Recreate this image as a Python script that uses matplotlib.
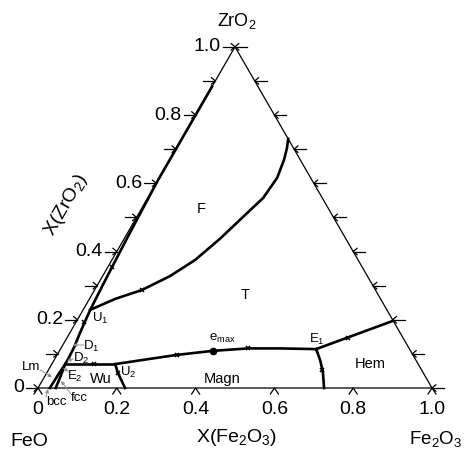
import numpy as np
import matplotlib
matplotlib.use("Agg")
import matplotlib.pyplot as plt

plt.rcParams['font.family'] = ['Liberation Sans', 'DejaVu Sans']
plt.rcParams['mathtext.fontset'] = 'custom'
plt.rcParams['mathtext.rm'] = 'Liberation Sans'
plt.rcParams['mathtext.it'] = 'Liberation Sans:italic'

# ---- data: compositions (x = X(Fe2O3), z = X(ZrO2)) ----
ft_x = [0.018, 0.065, 0.120, 0.171, 0.211, 0.243, 0.272, 0.293, 0.299, 0.290, 0.280, 0.270]
ft_z = [0.229, 0.261, 0.287, 0.328, 0.375, 0.437, 0.507, 0.557, 0.616, 0.669, 0.704, 0.730]

liq_x = [0.000, 0.000, 0.006, 0.012, 0.018, 0.026, 0.032, 0.034, 0.034, 0.032, 0.030]
liq_z = [0.883, 0.610, 0.450, 0.330, 0.229, 0.160, 0.120, 0.085, 0.070, 0.045, 0.000]

fcc_x = [0.034, 0.040, 0.045]
fcc_z = [0.070, 0.035, 0.000]

wu_x = [0.034, 0.107, 0.161]
wu_z = [0.070, 0.070, 0.070]

wumag_x = [0.161, 0.180, 0.221]
wumag_z = [0.070, 0.045, 0.000]

magt_x = [0.161, 0.234, 0.304, 0.390, 0.476, 0.556, 0.649]
magt_z = [0.070, 0.084, 0.097, 0.109, 0.116, 0.116, 0.114]

maghem_x = [0.649, 0.675, 0.699, 0.726]
maghem_z = [0.114, 0.082, 0.048, 0.000]

hemt_x = [0.649, 0.803]
hemt_z = [0.114, 0.197]

mark_x = [0.120, 0.011, 0.020, 0.107, 0.180, 0.304, 0.476, 0.694, 0.713]
mark_z = [0.287, 0.355, 0.194, 0.070, 0.045, 0.097, 0.116, 0.053, 0.146]

emax_x = [0.390]
emax_z = [0.109]

side_ticks = [0.0, 0.1, 0.2, 0.3, 0.4, 0.5, 0.6, 0.7, 0.8, 0.9, 1.0]
base_ticks = [0.0, 0.2, 0.4, 0.6, 0.8, 1.0]
tick_labels = ['0', '0.2', '0.4', '0.6', '0.8', '1.0']

S = np.sqrt(3) / 2
PX = 1 / 394.0


def tern(x, z):
    x = np.asarray(x, float)
    z = np.asarray(z, float)
    return x + z / 2, z * S


def P(px, py):
    return ((px - 38) / 394.0, (388 - py) / 394.0)


fig = plt.figure(figsize=(4.65, 4.55), dpi=100)
ax = fig.add_axes([0, 0, 1, 1])
ax.set_xlim(-38 / 394, (465 - 38) / 394)
ax.set_ylim((388 - 455) / 394, 388 / 394)
ax.axis('off')

# triangle
tx, ty = tern([0, 1, 0, 0], [0, 0, 1, 0])
ax.plot(tx, ty, color='black', lw=0.9, zorder=2)

# ticks
tl = 12 * PX
hl = 5 * PX
ang = np.deg2rad(40)
for z in side_ticks:
    X, Y = tern(0, z)
    ax.plot([X - tl, X], [Y, Y], color='black', lw=0.9)
    ax.plot([X - hl * np.cos(ang), X, X - hl * np.cos(ang)],
            [Y + hl * np.sin(ang), Y, Y - hl * np.sin(ang)], color='black', lw=0.9)
    X, Y = tern(1 - z, z)
    ax.plot([X, X + tl], [Y, Y], color='black', lw=0.9)
    ax.plot([X + hl * np.cos(ang), X, X + hl * np.cos(ang)],
            [Y + hl * np.sin(ang), Y, Y - hl * np.sin(ang)], color='black', lw=0.9)
for x in base_ticks:
    X, Y = tern(x, 0)
    ax.plot([X - 4 * PX, X, X + 4 * PX], [Y - 6 * PX, Y, Y - 6 * PX], color='black', lw=0.9)

# tick labels
fs_tick = 14
for z, lab in zip(base_ticks, tick_labels):
    X, Y = tern(0, z)
    ax.text(X - 14 * PX, Y, lab, ha='right', va='center', fontsize=fs_tick)
    X, Y = tern(z, 0)
    ax.text(X, Y - 21 * PX, lab, ha='center', va='center', fontsize=fs_tick)

# phase boundaries
blw = 1.9
for xs, zs in [(ft_x, ft_z), (liq_x, liq_z), (fcc_x, fcc_z), (wu_x, wu_z),
               (wumag_x, wumag_z), (magt_x, magt_z), (maghem_x, maghem_z), (hemt_x, hemt_z)]:
    X, Y = tern(xs, zs)
    ax.plot(X, Y, color='black', lw=blw, solid_joinstyle='round', zorder=3)

X, Y = tern(mark_x, mark_z)
ax.plot(X, Y, ls='none', marker='x', ms=3.2, mew=1.1, color='black', zorder=4)
X, Y = tern(emax_x, emax_z)
ax.plot(X, Y, ls='none', marker='o', ms=4.5, color='black', zorder=4)

# axis titles and corners
ax.text(*P(237, 21), 'ZrO$_2$', ha='center', va='center', fontsize=13)
ax.text(*P(29, 441), 'FeO', ha='center', va='center', fontsize=14)
ax.text(*P(462, 439), 'Fe$_2$O$_3$', ha='right', va='center', fontsize=13.5)
ax.text(*P(237, 438), 'X(Fe$_2$O$_3$)', ha='center', va='center', fontsize=14)
ax.text(*P(66, 205), 'X(ZrO$_2$)', ha='center', va='center', fontsize=14, rotation=60)

# region labels
fs_r = 10.5
ax.text(*P(201, 209), 'F', ha='center', va='center', fontsize=fs_r)
ax.text(*P(245, 295), 'T', ha='center', va='center', fontsize=fs_r)
ax.text(*P(370, 364), 'Hem', ha='center', va='center', fontsize=fs_r)
ax.text(*P(222, 379), 'Magn', ha='center', va='center', fontsize=fs_r)
ax.text(*P(101, 379), 'Wu', ha='center', va='center', fontsize=fs_r)

fs_p = 9.5
ax.text(*P(222, 338), 'e$_{\\mathrm{max}}$', ha='center', va='center', fontsize=fs_p)
ax.text(*P(317, 339), 'E$_1$', ha='center', va='center', fontsize=fs_p)
ax.text(*P(100, 318), 'U$_1$', ha='center', va='center', fontsize=fs_p)
ax.text(*P(128, 372), 'U$_2$', ha='center', va='center', fontsize=fs_p)
ax.text(*P(91, 346), 'D$_1$', ha='center', va='center', fontsize=fs_p)
ax.text(*P(81, 358), 'D$_2$', ha='center', va='center', fontsize=fs_p)
ax.text(*P(75, 376), 'E$_2$', ha='center', va='center', fontsize=fs_p)
ax.text(*P(31, 367), 'Lm', ha='center', va='center', fontsize=fs_p)
ax.text(*P(56, 402), 'bcc', ha='center', va='center', fontsize=fs_p)
ax.text(*P(79, 398), 'fcc', ha='center', va='center', fontsize=fs_p)

# gray leaders
gc = '#909090'
for (a, b) in [((84, 345), (73, 345)), ((73, 359), (67, 361)), ((69, 372), (63, 368)),
               ((40, 370), (52, 377)), ((46, 397), (48, 389)), ((71, 394), (61, 381))]:
    ax.annotate('', xy=P(*b), xytext=P(*a),
                arrowprops=dict(arrowstyle='-|>', color=gc, lw=0.7, mutation_scale=5,
                                shrinkA=0, shrinkB=0))

fig.savefig('out.png', dpi=100)
